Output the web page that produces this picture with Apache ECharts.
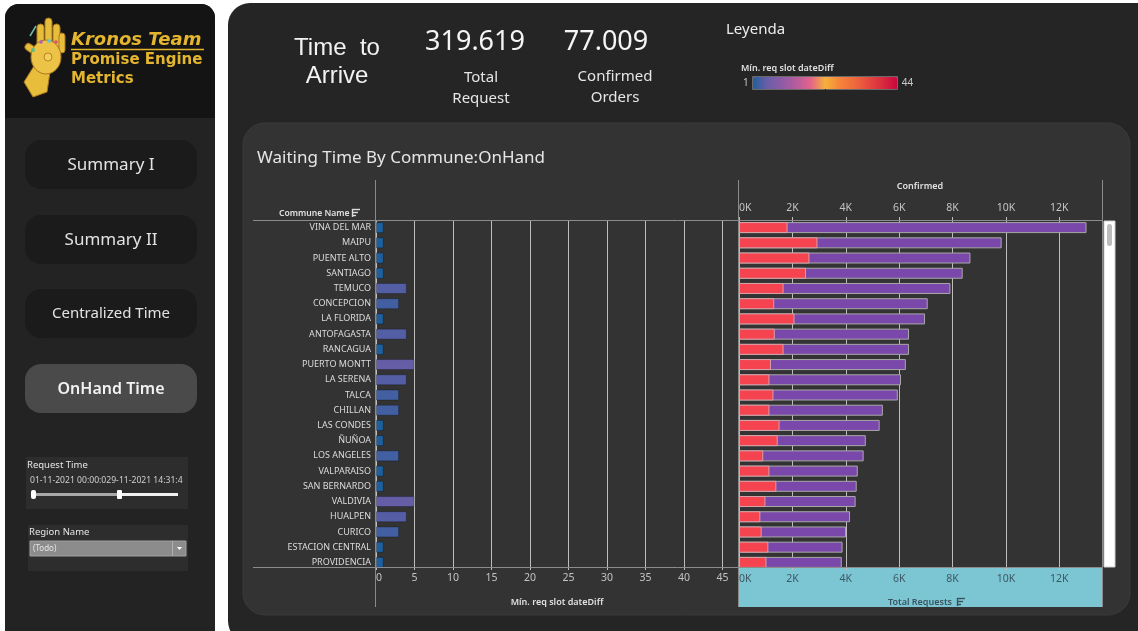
<!DOCTYPE html>
<html>
<head>
<meta charset="utf-8">
<title>Promise Engine Metrics - OnHand Time</title>
<script src="https://cdn.jsdelivr.net/npm/echarts@6/dist/echarts.min.js"></script>
<style>
  html, body { margin: 0; padding: 0; background: #ffffff; }
  #chart { width: 1138px; height: 631px; }
</style>
</head>
<body>
<div id="chart"></div>
<script>
// Communes ordered by total requests (descending)
const communes = [
  'VINA DEL MAR', 'MAIPU', 'PUENTE ALTO', 'SANTIAGO', 'TEMUCO', 'CONCEPCION',
  'LA FLORIDA', 'ANTOFAGASTA', 'RANCAGUA', 'PUERTO MONTT', 'LA SERENA', 'TALCA',
  'CHILLAN', 'LAS CONDES', 'ÑUÑOA', 'LOS ANGELES', 'VALPARAISO', 'SAN BERNARDO',
  'VALDIVIA', 'HUALPEN', 'CURICO', 'ESTACION CENTRAL', 'PROVIDENCIA'
];
// Minimum request slot date difference (days)
const minDateDiff = [1, 1, 1, 1, 4, 3, 1, 4, 1, 5, 4, 3, 3, 1, 1, 3, 1, 1, 5, 4, 3, 1, 1];
// Total requests per commune
const totalRequests = [13020, 9840, 8670, 8380, 7920, 7070, 6970, 6370, 6370, 6250, 6070, 5950,
  5390, 5270, 4750, 4670, 4450, 4410, 4370, 4160, 4010, 3880, 3850];
// Confirmed orders per commune
const confirmedOrders = [1820, 2940, 2640, 2510, 1670, 1320, 2080, 1340, 1670, 1200, 1140, 1290,
  1140, 1520, 1450, 910, 1140, 1400, 990, 800, 850, 1100, 1030];

// Headline figures
const kpiTotalRequest = '319.619';
const kpiConfirmed = '77.009';
const navItems = ['Summary I', 'Summary II', 'Centralized Time', 'OnHand Time'];
const diffRange = [1, 44];

const FONT = "'Noto Sans', 'DejaVu Sans', sans-serif";
const BRAND_FONT = "'DejaVu Sans', Verdana, sans-serif";
const GOLD = '#e4b52f';

const chart = echarts.init(document.getElementById('chart'), null, { renderer: 'canvas' });

function txt(x, y, text, font, fill, align, vAlign, z) {
  return {
    type: 'text', z: z || 20,
    style: { x: x, y: y, text: text, font: font, fill: fill,
             align: align || 'left', verticalAlign: vAlign || 'middle' }
  };
}
function rect(x, y, w, h, r, fill, z, stroke) {
  return {
    type: 'rect', z: z,
    shape: { x: x, y: y, width: w, height: h, r: r },
    style: { fill: fill, stroke: stroke || null, lineWidth: stroke ? 1 : 0 }
  };
}
function line(x1, y1, x2, y2, color, w, z) {
  return {
    type: 'line', z: z || 6,
    shape: { x1: x1, y1: y1, x2: x2, y2: y2 },
    style: { stroke: color, lineWidth: w || 1 }
  };
}
function sortIcon(x, y, color) {
  return [
    line(x, y + 0.5, x + 8, y + 0.5, color, 1.4, 30),
    line(x, y + 3.5, x + 6, y + 3.5, color, 1.4, 30),
    line(x, y + 6.5, x + 4, y + 6.5, color, 1.4, 30),
    line(x + 0.5, y, x + 0.5, y + 8, color, 1.4, 30)
  ];
}

// Gauntlet logo
const logo = [
  { type: 'polygon', z: 10, shape: { points: [[24, 82], [33, 97], [47, 92], [50, 72], [34, 66]] },
    style: { fill: '#e9bd3c', stroke: '#a9781f', lineWidth: 1 } },
  { type: 'ellipse', z: 11, shape: { cx: 46, cy: 57, rx: 15, ry: 17 },
    style: { fill: '#ecc247', stroke: '#a9781f', lineWidth: 1 } },
  { type: 'rect', z: 10, shape: { x: 37, y: 24, width: 7, height: 24, r: 3.5 },
    style: { fill: '#e9bd3c', stroke: '#a9781f', lineWidth: 1 } },
  { type: 'rect', z: 10, shape: { x: 45, y: 18, width: 7, height: 28, r: 3.5 },
    style: { fill: '#e9bd3c', stroke: '#a9781f', lineWidth: 1 } },
  { type: 'rect', z: 10, shape: { x: 53, y: 24, width: 7, height: 24, r: 3.5 },
    style: { fill: '#e9bd3c', stroke: '#a9781f', lineWidth: 1 } },
  { type: 'rect', z: 10, shape: { x: 59, y: 33, width: 6, height: 20, r: 3 },
    style: { fill: '#e9bd3c', stroke: '#a9781f', lineWidth: 1 } },
  { type: 'rect', z: 10, shape: { x: 24, y: 46, width: 16, height: 7, r: 3.5 }, rotation: -0.6, originX: 32, originY: 50,
    style: { fill: '#e9bd3c', stroke: '#a9781f', lineWidth: 1 } },
  { type: 'circle', z: 12, shape: { cx: 48, cy: 57, r: 4 }, style: { fill: '#f2d05a', stroke: '#b58624' } },
  { type: 'circle', z: 12, shape: { cx: 41, cy: 42, r: 1.8 }, style: { fill: '#b45bc9' } },
  { type: 'circle', z: 12, shape: { cx: 49, cy: 41, r: 1.8 }, style: { fill: '#56c8e6' } },
  { type: 'circle', z: 12, shape: { cx: 56, cy: 42, r: 1.8 }, style: { fill: '#e0506a' } },
  { type: 'circle', z: 12, shape: { cx: 33, cy: 50, r: 2 }, style: { fill: '#55c08a' } },
  line(30, 36, 36, 26, '#6fb8a8', 1.5, 12)
];

const navY = [140, 215, 289, 364];
const nav = [];
navItems.forEach(function (name, i) {
  const active = i === navItems.length - 1;
  nav.push(rect(25, navY[i], 172, 49, 16, active ? '#4a4a4a' : '#1b1b1b', -20));
  nav.push(txt(111, navY[i] + 25, name,
    (active ? '600 16px ' : (i === 2 ? '15px ' : '17px ')) + FONT,
    active ? '#f2f2f2' : '#e2e2e2', 'center', 'middle'));
});

const graphics = [
  // panels
  rect(5, 4, 210, 640, 14, '#232323', -40),
  rect(5, 4, 210, 114, [14, 14, 0, 0], '#141414', -39),
  rect(228, 3, 930, 640, 22, '#252525', -40),
  rect(243, 123, 887, 492, 22, '#333333', -35, '#3b3b3b'),
  // header text
  txt(71, 40, 'Kronos Team', 'italic bold 18px ' + BRAND_FONT, GOLD, 'left', 'middle'),
  line(71, 49.5, 204, 49.5, GOLD, 1.5, 20),
  txt(71, 60, 'Promise Engine', 'bold 15px ' + BRAND_FONT, GOLD, 'left', 'middle'),
  txt(71, 79, 'Metrics', 'bold 15px ' + BRAND_FONT, GOLD, 'left', 'middle'),
  // filters
  rect(26, 457, 162, 52, 0, '#2d2d2d', -20),
  txt(27, 465, 'Request Time', '9.5px ' + FONT, '#e6e6e6'),
  txt(30, 481, '01-11-2021 00:00:029-11-2021 14:31:4', '8.6px ' + FONT, '#d0d0d0'),
  line(33, 494.5, 119, 494.5, '#a8a8a8', 3, 20),
  line(119, 494.5, 178, 494.5, '#f0f0f0', 3, 20),
  rect(31, 490, 5, 9, 2, '#ffffff', 22),
  rect(117, 490, 5, 9, 1, '#ffffff', 22),
  rect(28, 525, 160, 46, 0, '#2d2d2d', -20),
  txt(29, 532, 'Region Name', '9.5px ' + FONT, '#e6e6e6'),
  rect(30, 541, 156, 15, 0, '#8c8c8c', 18, '#a0a0a0'),
  line(172.5, 541, 172.5, 556, '#b0b0b0', 1, 19),
  { type: 'polygon', z: 20, shape: { points: [[177, 547], [182, 547], [179.5, 550]] }, style: { fill: '#ffffff' } },
  txt(33, 549, '(Todo)', '8px ' + FONT, '#e4e4e4'),
  // KPIs
  txt(337, 48, 'Time  to', '24px "Liberation Sans", Arial, sans-serif', '#f2f2f2', 'center'),
  txt(337, 76, 'Arrive', '24px "Liberation Sans", Arial, sans-serif', '#f2f2f2', 'center'),
  txt(475, 42, kpiTotalRequest, '27px ' + FONT, '#f5f5f5', 'center'),
  txt(481, 78, 'Total', '15px ' + FONT, '#e6e6e6', 'center'),
  txt(481, 99, 'Request', '15px ' + FONT, '#e6e6e6', 'center'),
  txt(606, 42, kpiConfirmed, '27px ' + FONT, '#f5f5f5', 'center'),
  txt(615, 77, 'Confirmed', '15px ' + FONT, '#e6e6e6', 'center'),
  txt(615, 98, 'Orders', '15px ' + FONT, '#e6e6e6', 'center'),
  // legend
  txt(726, 30, 'Leyenda', '15px ' + FONT, '#ececec'),
  txt(741, 68, 'Mín. req slot dateDiff', '600 9px ' + FONT, '#e0e0e0'),
  rect(752.5, 76.5, 145, 13, 0, 'none', 30, '#6a6a6a'),
  line(825.5, 89, 825.5, 92, '#222', 1, 31),
  // chart card content
  txt(257, 158, 'Waiting Time By Commune:OnHand', '17px ' + FONT, '#e6e6e6'),
  txt(279, 213.5, 'Commune Name', '600 8.6px ' + FONT, '#e0e0e0'),
  txt(920, 186, 'Confirmed', '600 9px ' + FONT, '#e0e0e0', 'center'),
  txt(557, 602, 'Mín. req slot dateDiff', '600 9px ' + FONT, '#e0e0e0', 'center'),
  rect(739, 567, 363, 40, 0, '#7cc6d4', -10),
  txt(920, 602, 'Total Requests', '600 9px ' + FONT, '#39545e', 'center'),
  // dividers
  line(253, 220.5, 1102, 220.5, '#8c8c8c', 1, 8),
  line(253, 567.5, 1102, 567.5, '#8c8c8c', 1, 8),
  line(375.5, 180, 375.5, 607, '#8a8a8a', 1, 8),
  line(738.5, 180, 738.5, 607, '#8a8a8a', 1, 8),
  line(1102.5, 180, 1102.5, 607, '#8a8a8a', 1, 8),
  // scrollbar
  rect(1104, 221, 11, 346, 0, '#ffffff', 8, '#cfcfcf'),
  rect(1107, 224, 5, 22, 2.5, '#bdbdbd', 9)
].concat(logo, nav, sortIcon(352, 209, '#dddddd'), sortIcon(957, 598, '#39545e'));

const option = {
  backgroundColor: '#ffffff',
  animation: false,
  textStyle: { fontFamily: FONT },
  grid: [
    { left: 376, top: 220, width: 362, height: 350 },
    { left: 739, top: 220, width: 363, height: 350 }
  ],
  xAxis: [
    {
      gridIndex: 0, type: 'value', min: 0, max: 47, interval: 5, position: 'bottom',
      axisLine: { show: false }, axisTick: { show: false },
      splitLine: { show: true, lineStyle: { color: '#bdbdbd', width: 1 } },
      axisLabel: { color: '#c4c4c4', fontSize: 10.5, margin: 3, showMaxLabel: false, alignMinLabel: 'left' }
    },
    {
      gridIndex: 1, type: 'value', min: 0, max: 13600, interval: 2000, position: 'top',
      axisLine: { show: false },
      axisTick: { show: true, length: 3, lineStyle: { color: '#bdbdbd' } },
      splitLine: { show: true, lineStyle: { color: '#bdbdbd', width: 1 } },
      axisLabel: { color: '#c4c4c4', fontSize: 10.5, margin: 6, showMaxLabel: false, alignMinLabel: 'left',
        formatter: function (v) { return (v / 1000) + 'K'; } }
    },
    {
      gridIndex: 1, type: 'value', min: 0, max: 13600, interval: 2000, position: 'bottom',
      axisLine: { show: false },
      axisTick: { show: false },
      splitLine: { show: false },
      axisLabel: { color: '#3d5862', fontSize: 10.5, margin: 4, showMaxLabel: false, alignMinLabel: 'left',
        formatter: function (v) { return (v / 1000) + 'K'; } }
    }
  ],
  yAxis: [
    {
      gridIndex: 0, type: 'category', inverse: true, data: communes,
      axisLine: { show: false }, axisTick: { show: false },
      axisLabel: { color: '#dcdcdc', fontSize: 9, margin: 5, interval: 0 }
    },
    {
      gridIndex: 1, type: 'category', inverse: true, data: communes, show: false
    }
  ],
  visualMap: {
    type: 'continuous', min: diffRange[0], max: diffRange[1],
    orient: 'horizontal', left: 728, top: 62,
    itemWidth: 13, itemHeight: 145,
    text: [String(diffRange[1]), String(diffRange[0])], textGap: 4,
    textStyle: { color: '#c8c8c8', fontSize: 10 },
    calculable: false, hoverLink: false,
    seriesIndex: 0, dimension: 0,
    inRange: {
      color: ['#1f5f9c', '#6a5ea8', '#8f5aa6', '#b65c9e', '#e4638a', '#f6b03c',
              '#f5843a', '#ee6a3c', '#e5483f', '#d82a3f', '#c8043d']
    }
  },
  series: [
    {
      name: 'Mín. req slot dateDiff', type: 'bar', xAxisIndex: 0, yAxisIndex: 0,
      barWidth: 11,
      itemStyle: { borderColor: 'rgba(0,0,0,0.25)', borderWidth: 1 },
      data: communes.map(function (c, i) { return [minDateDiff[i], c]; })
    },
    {
      name: 'Total Requests', type: 'bar', xAxisIndex: 2, yAxisIndex: 1,
      barWidth: 11, barGap: '-100%',
      itemStyle: { color: '#7a48aa', borderColor: '#a8a8a8', borderWidth: 1 },
      data: totalRequests
    },
    {
      name: 'Confirmed', type: 'bar', xAxisIndex: 1, yAxisIndex: 1,
      barWidth: 11, barGap: '-100%',
      itemStyle: { color: '#f5444f', borderColor: 'rgba(215,170,175,0.9)', borderWidth: 1 },
      data: confirmedOrders
    }
  ],
  graphic: { elements: graphics }
};

chart.setOption(option);
</script>
</body>
</html>
